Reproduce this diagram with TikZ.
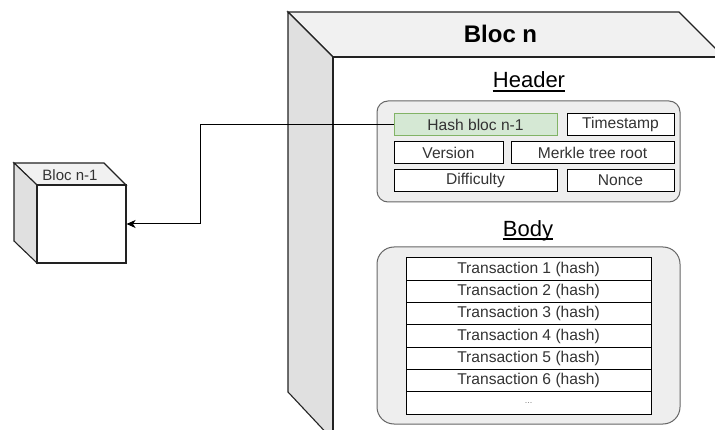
\documentclass[tikz,border=0pt]{standalone}
\usepackage{fontspec}
\setmainfont{Liberation Sans}
\usetikzlibrary{arrows.meta,calc}
\definecolor{txtgray}{HTML}{333333}
\definecolor{topgray}{HTML}{F1F1F1}
\definecolor{sidegray}{HTML}{E0E0E0}
\definecolor{contfill}{HTML}{EEEEEE}
\definecolor{contline}{HTML}{666666}
\definecolor{greenfill}{HTML}{D5E8D4}
\definecolor{greenline}{HTML}{82B366}
\definecolor{edge}{HTML}{222222}
\tikzset{
  boxfont/.style={font=\fontsize{15.6}{18}\selectfont, text=txtgray},
  hbox/.style={boxfont, draw=black, line width=1pt, fill=white, inner sep=0pt, minimum height=22.5pt},
  trow/.style={boxfont, draw=black, line width=1pt, fill=white, inner sep=0pt, minimum width=245pt, minimum height=22.3pt},
  cont/.style={draw=contline, fill=contfill, line width=1pt},
  cubeline/.style={draw=edge, line width=1.1pt, line join=miter},
  title/.style={font=\fontsize{22}{26}\selectfont, text=black, anchor=base, inner sep=0pt},
  uline/.style={line width=1.2pt},
}
\begin{document}
\begin{tikzpicture}[x=1pt,y=-1pt]
\useasboundingbox (0,0) rectangle (715,430);
\begin{scope}
\clip (0,0) rectangle (715,430);
% big cube
\path[cubeline, fill=topgray] (288,12) -- (679,12) -- (724,57) -- (333,57) -- cycle;
\path[cubeline, fill=sidegray] (288,12) -- (333,57) -- (333,440) -- (288,392) -- cycle;
\path[cubeline, fill=white] (333,57) rectangle (724,445);
\end{scope}
\node[font=\bfseries\fontsize{24}{28}\selectfont, anchor=base, inner sep=0pt] (blocn) at (500.5,43) {Bloc n};
% header
\node[title] (header) at (529,88) {Header};
\draw[uline] ($(header.base west)+(0,3)$) -- ($(header.base east)+(0,3)$);
\path[cont, rounded corners=11pt] (377,101) rectangle (680,202);
\node[hbox, draw=greenline, fill=greenfill, minimum width=163pt] (hash) at (475.5,124.5) {Hash bloc n-1};
\node[hbox, minimum width=107pt] (ts) at (620.5,124.5) {Timestamp};
\node[hbox, minimum width=109pt] (ver) at (448.5,152.5) {Version};
\node[hbox, minimum width=163pt] (merkle) at (592.5,152.5) {Merkle tree root};
\node[hbox, minimum width=163pt] (diff) at (475.5,180.5) {Difficulty};
\node[hbox, minimum width=107pt] (nonce) at (620.5,180.5) {Nonce};
% body
\node[title] (body) at (528,237) {Body};
\draw[uline] ($(body.base west)+(0,2)$) -- ($(body.base east)+(0,2)$);
\path[cont, rounded corners=17pt] (377,247) rectangle (680,424);
\foreach \i in {1,2,3,4,5,6}{
  \node[trow] (tr\i) at (528.5,{258+22.3*(\i-0.5)}) {Transaction \i\ (hash)};
}
\node[trow, font=\fontsize{9}{10}\selectfont, text=gray] (tr7) at (528.5,{258+22.3*6.5}) {...};
% small cube
\path[cubeline, fill=topgray] (14,163) -- (104,163) -- (126,185) -- (37,185) -- cycle;
\path[cubeline, fill=sidegray] (14,163) -- (37,185) -- (37,263) -- (14,241) -- cycle;
\node[draw=edge, line width=1.1pt, fill=white, minimum width=89pt, minimum height=78pt, inner sep=0pt] (prev) at (81.5,224) {};
\node[font=\fontsize{15}{18}\selectfont, text=txtgray, inner sep=0pt] (prevlabel) at (70,175) {Bloc n-1};
% connector
\coordinate (bend) at (200,124.5);
\draw[line width=1pt, -{Stealth[length=9pt,width=8pt,inset=2.5pt]}] (hash.west) -- (bend) |- (prev.east);
\end{tikzpicture}
\end{document}
